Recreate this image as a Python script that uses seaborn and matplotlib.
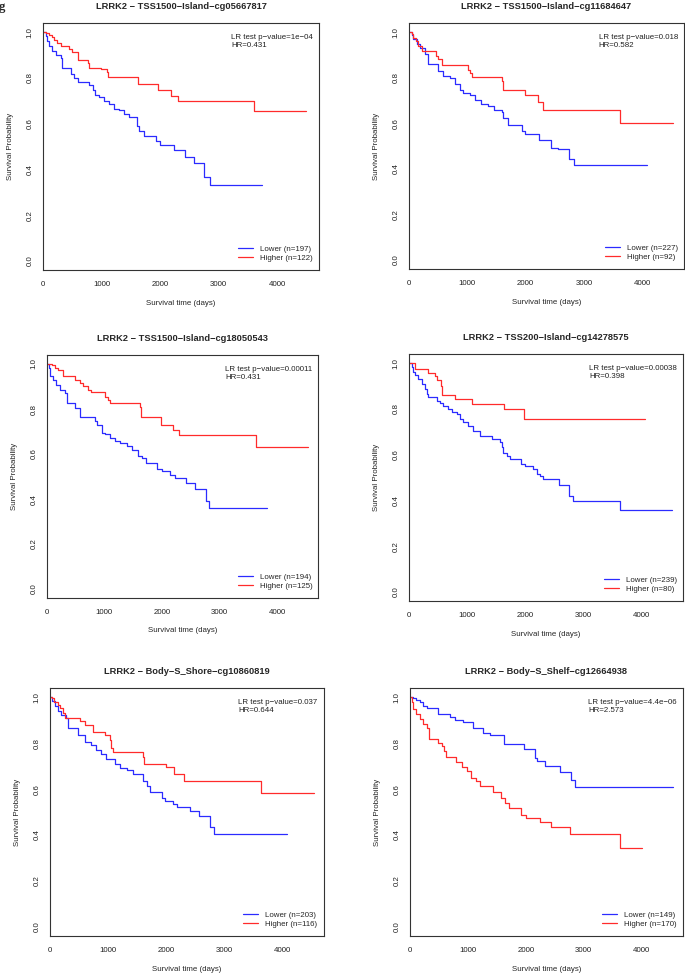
import pandas as pd
import seaborn as sns
import matplotlib.pyplot as plt
from matplotlib.lines import Line2D

# panel texts
titles = ['LRRK2 − TSS1500−Island−cg05667817', 'LRRK2 − TSS1500−Island−cg11684647',
          'LRRK2 − TSS1500−Island−cg18050543', 'LRRK2 − TSS200−Island−cg14278575',
          'LRRK2 − Body−S_Shore−cg10860819', 'LRRK2 − Body−S_Shelf−cg12664938']
pvalues = ['1e−04', '0.018', '0.00011', '0.00038', '0.037', '4.4e−06']
hazard_ratios = ['0.431', '0.582', '0.431', '0.398', '0.644', '2.573']
n_lower = [197, 227, 194, 239, 203, 149]
n_higher = [122, 92, 125, 80, 116, 170]

# step points (time in days, survival probability)
p1_lower_t = [0, 46, 74, 103, 160, 217, 303, 331, 474, 531, 589, 789, 846, 891, 960, 1046, 1131, 1217,
              1303, 1389, 1474, 1600, 1646, 1731, 1920, 1989, 2234, 2429, 2571, 2754, 2846, 3731]
p1_lower_s = [1.0, 0.982, 0.961, 0.939, 0.917, 0.902, 0.888, 0.844, 0.815, 0.800, 0.782, 0.768, 0.749,
              0.727, 0.715, 0.701, 0.686, 0.664, 0.658, 0.644, 0.631, 0.591, 0.566, 0.547, 0.523, 0.508,
              0.486, 0.453, 0.428, 0.365, 0.331, 0.331]
p1_higher_t = [0, 57, 103, 149, 189, 237, 311, 452, 497, 593, 763, 780, 989, 1085, 1102, 1627, 1966,
               2187, 2300, 3600, 4492]
p1_higher_s = [1.0, 0.997, 0.987, 0.978, 0.964, 0.953, 0.939, 0.927, 0.912, 0.876, 0.865, 0.844, 0.839,
               0.825, 0.804, 0.775, 0.746, 0.719, 0.700, 0.655, 0.655]

p2_lower_t = [0, 46, 74, 131, 189, 274, 320, 503, 589, 703, 789, 874, 931, 1046, 1131, 1234, 1360, 1463,
              1589, 1617, 1703, 1931, 1989, 2234, 2429, 2560, 2743, 2834, 4074]
p2_lower_s = [1.0, 0.987, 0.968, 0.949, 0.931, 0.905, 0.858, 0.829, 0.807, 0.799, 0.773, 0.748, 0.734,
              0.723, 0.704, 0.685, 0.675, 0.656, 0.650, 0.624, 0.594, 0.568, 0.551, 0.526, 0.492, 0.489,
              0.445, 0.417, 0.417]
p2_higher_t = [0, 46, 74, 114, 160, 217, 457, 491, 571, 1006, 1046, 1086, 1600, 1617, 1989, 2206, 2303,
               3617, 4531]
p2_higher_s = [1.0, 0.990, 0.975, 0.960, 0.939, 0.919, 0.895, 0.883, 0.854, 0.832, 0.821, 0.805, 0.785,
               0.747, 0.723, 0.693, 0.659, 0.599, 0.599]

p3_lower_t = [0, 46, 69, 116, 173, 231, 318, 347, 491, 578, 838, 867, 954, 1012, 1098, 1185, 1272, 1387,
              1474, 1590, 1647, 1717, 1907, 1994, 2139, 2225, 2416, 2572, 2763, 2821, 3815]
p3_lower_s = [1.0, 0.982, 0.945, 0.930, 0.908, 0.886, 0.871, 0.827, 0.804, 0.764, 0.745, 0.730, 0.693,
              0.689, 0.671, 0.656, 0.649, 0.634, 0.619, 0.593, 0.582, 0.560, 0.535, 0.523, 0.508, 0.493,
              0.471, 0.444, 0.390, 0.359, 0.359]
p3_higher_t = [0, 87, 145, 202, 289, 491, 578, 636, 723, 763, 1012, 1069, 1098, 1618, 1636, 1983, 2196,
               2300, 3624, 4537]
p3_higher_s = [1.0, 0.997, 0.982, 0.972, 0.948, 0.930, 0.916, 0.901, 0.886, 0.874, 0.853, 0.841, 0.827,
               0.809, 0.764, 0.730, 0.708, 0.684, 0.633, 0.633]

p4_lower_t = [0, 46, 63, 103, 160, 218, 275, 315, 332, 476, 533, 590, 676, 733, 819, 877, 934, 1020, 1106,
              1220, 1421, 1564, 1593, 1622, 1679, 1736, 1925, 1994, 2137, 2195, 2252, 2309, 2579, 2756,
              2825, 3627, 4532]
p4_lower_s = [1.0, 0.982, 0.960, 0.946, 0.931, 0.909, 0.887, 0.865, 0.851, 0.836, 0.826, 0.811, 0.799,
              0.788, 0.777, 0.755, 0.741, 0.726, 0.704, 0.682, 0.668, 0.653, 0.631, 0.609, 0.594, 0.580,
              0.558, 0.550, 0.539, 0.514, 0.507, 0.495, 0.467, 0.419, 0.397, 0.359, 0.359]
p4_higher_t = [0, 103, 332, 447, 476, 550, 573, 791, 1089, 1633, 1983, 4057]
p4_higher_s = [1.0, 0.975, 0.958, 0.943, 0.928, 0.902, 0.861, 0.843, 0.821, 0.799, 0.755, 0.755]

p5_lower_t = [0, 46, 86, 144, 201, 288, 317, 489, 604, 719, 806, 892, 978, 1122, 1209, 1324, 1439, 1611,
              1669, 1727, 1928, 1985, 2129, 2187, 2417, 2578, 2762, 2831, 4086]
p5_lower_s = [1.0, 0.982, 0.960, 0.938, 0.924, 0.909, 0.865, 0.836, 0.806, 0.792, 0.770, 0.751, 0.733,
              0.711, 0.692, 0.682, 0.667, 0.633, 0.613, 0.589, 0.562, 0.550, 0.535, 0.521, 0.503, 0.484,
              0.433, 0.406, 0.406]
p5_higher_t = [0, 46, 69, 144, 184, 230, 259, 518, 604, 748, 950, 1036, 1065, 1093, 1611, 1623, 2003,
               2141, 2314, 3637, 4546]
p5_higher_s = [1.0, 0.997, 0.979, 0.968, 0.953, 0.931, 0.909, 0.897, 0.877, 0.850, 0.836, 0.814, 0.777,
               0.760, 0.740, 0.708, 0.694, 0.666, 0.633, 0.581, 0.581]

p6_lower_t = [0, 57, 103, 172, 230, 287, 488, 689, 775, 918, 1090, 1263, 1377, 1624, 1968, 2152, 2192,
              2324, 2583, 2772, 2852, 4534]
p6_lower_s = [1.0, 0.996, 0.990, 0.978, 0.963, 0.953, 0.927, 0.912, 0.902, 0.893, 0.864, 0.846, 0.834,
              0.795, 0.773, 0.736, 0.721, 0.702, 0.673, 0.641, 0.607, 0.607]
p6_higher_t = [0, 29, 57, 103, 172, 230, 298, 333, 488, 545, 585, 620, 803, 890, 976, 1062, 1148, 1205,
               1435, 1578, 1636, 1710, 1923, 2009, 2238, 2428, 2766, 3633, 4006]
p6_higher_s = [1.0, 0.978, 0.949, 0.927, 0.905, 0.883, 0.865, 0.820, 0.799, 0.787, 0.765, 0.740, 0.717,
               0.696, 0.677, 0.648, 0.633, 0.614, 0.589, 0.560, 0.538, 0.516, 0.487, 0.472, 0.457, 0.435,
               0.406, 0.342, 0.342]

curves = [
    (p1_lower_t, p1_lower_s, p1_higher_t, p1_higher_s),
    (p2_lower_t, p2_lower_s, p2_higher_t, p2_higher_s),
    (p3_lower_t, p3_lower_s, p3_higher_t, p3_higher_s),
    (p4_lower_t, p4_lower_s, p4_higher_t, p4_higher_s),
    (p5_lower_t, p5_lower_s, p5_higher_t, p5_higher_s),
    (p6_lower_t, p6_lower_s, p6_higher_t, p6_higher_s),
]

# axes boxes in figure fractions (left, bottom, width, height)
rects = [
    (0.0628, 0.7228, 0.403, 0.2536),
    (0.5970, 0.7238, 0.4015, 0.2526),
    (0.0679, 0.3860, 0.397, 0.2495),
    (0.5970, 0.3830, 0.400, 0.2536),
    (0.0723, 0.0390, 0.400, 0.2546),
    (0.5985, 0.0390, 0.3985, 0.2546),
]

colors = {'Lower': '#2b2bff', 'Higher': '#ff2b2b'}

sns.set_theme(style="white")
plt.rcParams['font.family'] = ['Liberation Sans', 'DejaVu Sans']

fig = plt.figure(figsize=(6.85, 9.74), dpi=100)
fig.text(-0.002, 0.999, 'g', fontsize=9, fontweight='bold', family='Liberation Serif',
         ha='left', va='top')

small = 5.7
for i in range(6):
    lt, ls, ht, hs = curves[i]
    df = pd.concat([
        pd.DataFrame({'time': lt, 'surv': ls, 'group': 'Lower'}),
        pd.DataFrame({'time': ht, 'surv': hs, 'group': 'Higher'}),
    ])
    ax = fig.add_axes(rects[i])
    sns.lineplot(data=df, x='time', y='surv', hue='group', hue_order=['Lower', 'Higher'],
                 palette=colors, estimator=None, drawstyle='steps-post', linewidth=0.9,
                 legend=False, ax=ax)

    ax.set_xlim(0, 4712)
    ax.set_ylim(-0.04, 1.04)
    ax.set_xticks([0, 1000, 2000, 3000, 4000])
    ax.set_xticklabels(['0', '1000', '2000', '3000', '4000'])
    ax.set_yticks([0, 0.2, 0.4, 0.6, 0.8, 1.0])
    ax.set_yticklabels(['0.0', '0.2', '0.4', '0.6', '0.8', '1.0'])
    ax.tick_params(axis='both', direction='out', length=3.6, width=0.7, colors='#222222',
                   labelsize=small, pad=3)
    ax.tick_params(axis='x', pad=4.3)
    for lab in ax.get_yticklabels():
        lab.set_rotation(90)
        lab.set_va('center')
    for sp in ax.spines.values():
        sp.set_color('#333333')
        sp.set_linewidth(0.8)

    ax.set_title(titles[i], fontsize=6.7, fontweight='bold', pad=10)
    ax.set_xlabel('Survival time (days)', fontsize=small)
    ax.set_ylabel('Survival Probability', fontsize=small)
    ax.xaxis.set_label_coords(0.5, -0.12)
    ax.yaxis.set_label_coords(-0.105, 0.5)

    ax.text(0.978, 0.955, 'LR test p−value=' + pvalues[i] + '\nHR=' + hazard_ratios[i],
            transform=ax.transAxes, ha='right', va='top', multialignment='left',
            fontsize=small, linespacing=1.25, color='#222222')

    handles = [Line2D([], [], color=colors['Lower'], lw=0.9),
               Line2D([], [], color=colors['Higher'], lw=0.9)]
    ax.legend(handles, ['Lower (n=%d)' % n_lower[i], 'Higher (n=%d)' % n_higher[i]],
              loc='lower right', bbox_to_anchor=(0.978, 0.032), frameon=False, borderpad=0,
              borderaxespad=0, fontsize=small, handlelength=1.9, handletextpad=0.9,
              labelspacing=0.25)

fig.savefig('out.png', dpi=100)
